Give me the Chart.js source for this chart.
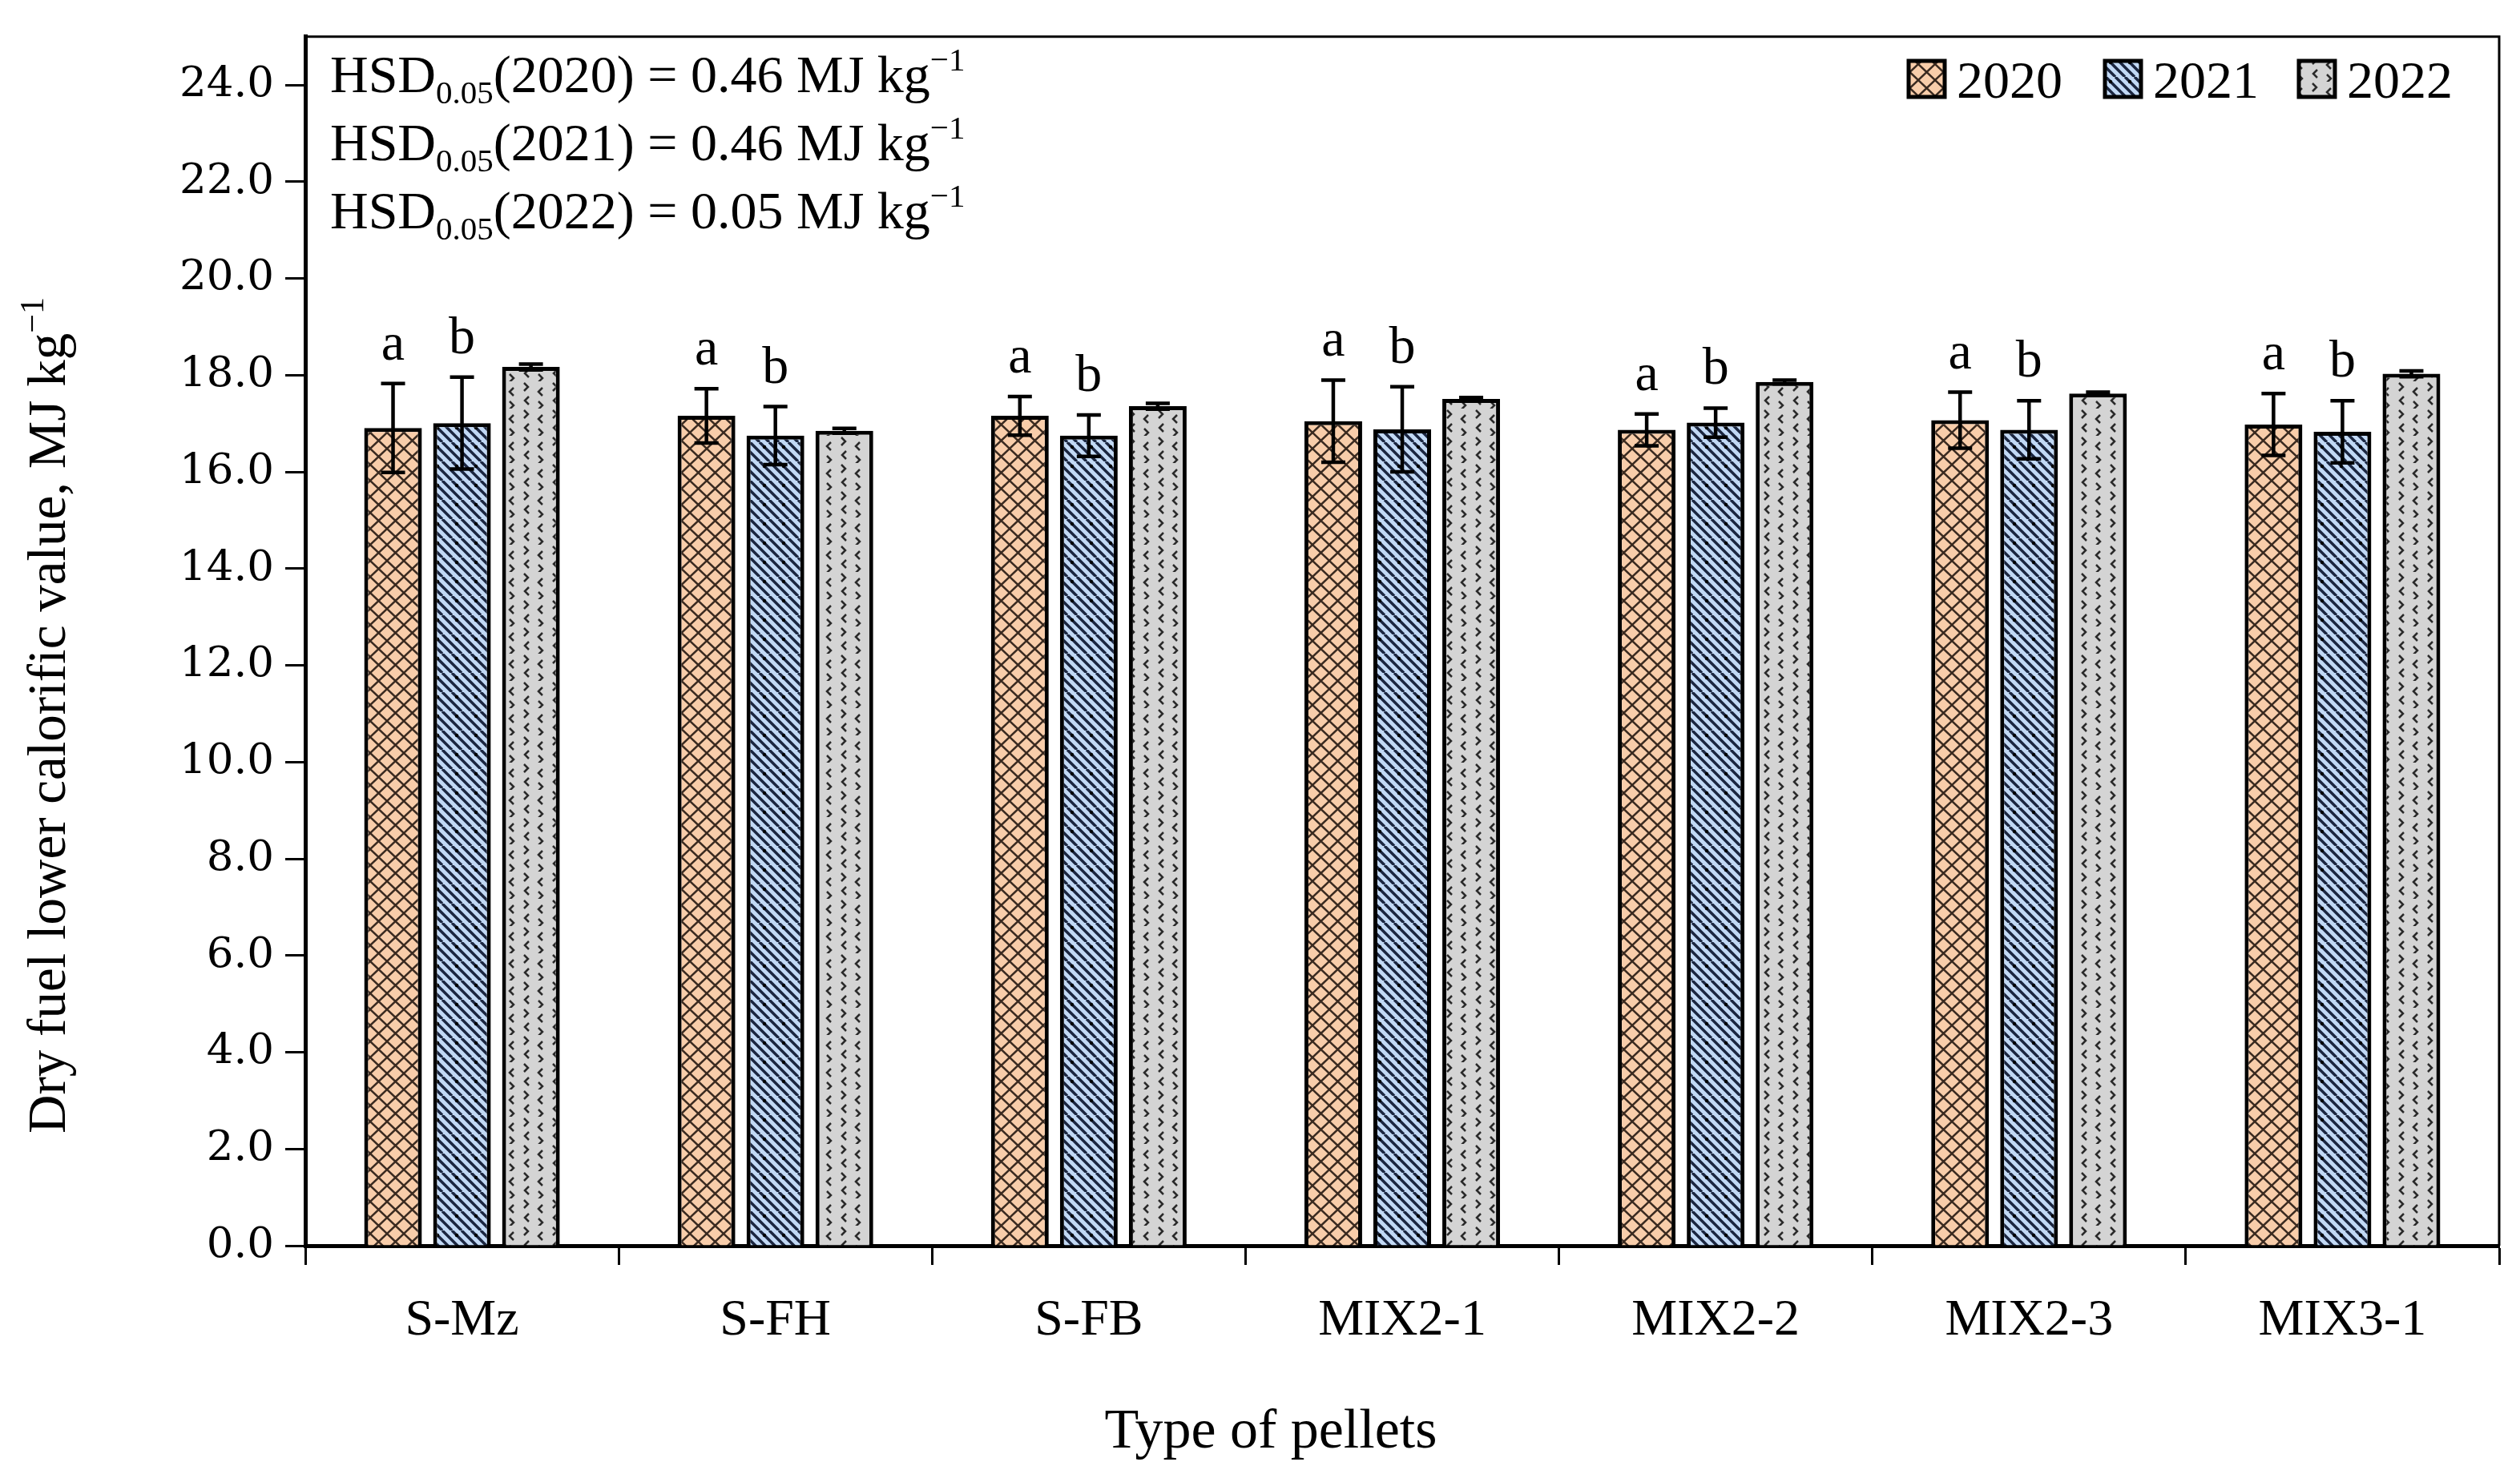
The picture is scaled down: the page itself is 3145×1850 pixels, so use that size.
<!DOCTYPE html>
<html>
<head>
<meta charset="utf-8">
<script src="https://cdn.jsdelivr.net/npm/chart.js@4.4.1/dist/chart.umd.min.js"></script>
<style>
    html, body { margin: 0; padding: 0; background: #fff; }
    canvas { display: block; }
</style>
</head>
<body>
<canvas id="chart" width="3145" height="1850"></canvas>
<script>
// data
let pellets = ['S-Mz', 'S-FH', 'S-FB', 'MIX2-1', 'MIX2-2', 'MIX2-3', 'MIX3-1'];
let years = ['2020', '2021', '2022'];
let lcv2020 = [16.91, 17.16, 17.16, 17.05, 16.87, 17.07, 16.98];
let lcv2021 = [17.01, 16.75, 16.75, 16.88, 17.02, 16.87, 16.83];
let lcv2022 = [18.17, 16.85, 17.36, 17.51, 17.86, 17.62, 18.03];
let err2020 = [0.92, 0.56, 0.40, 0.85, 0.33, 0.58, 0.64];
let err2021 = [0.95, 0.60, 0.43, 0.88, 0.30, 0.60, 0.64];
let err2022 = [0.06, 0.05, 0.06, 0.03, 0.04, 0.03, 0.06];
let letters2020 = ['a', 'a', 'a', 'a', 'a', 'a', 'a'];
let letters2021 = ['b', 'b', 'b', 'b', 'b', 'b', 'b'];
let hsdValues = ['0.46', '0.46', '0.05'];
let yTickStep = 2;

let serif = 'Liberation Serif';

// fill patterns
function makeTile(size, draw) {
    let c = document.createElement('canvas');
    c.width = size[0];
    c.height = size[1];
    let g = c.getContext('2d');
    draw(g, size[0], size[1]);
    return g.createPattern(c, 'repeat');
}

let pattern2020 = makeTile([21, 20], (g, w, h) => {
    g.fillStyle = '#f8cdaa';
    g.fillRect(0, 0, w, h);
    g.strokeStyle = '#3a2a20';
    g.lineWidth = 2.5;
    g.beginPath();
    g.moveTo(-w, -h); g.lineTo(2 * w, 2 * h);
    g.moveTo(2 * w, -h); g.lineTo(-w, 2 * h);
    g.stroke();
});

let pattern2021 = makeTile([24, 24], (g, w, h) => {
    g.fillStyle = '#c2d9f5';
    g.fillRect(0, 0, w, h);
    g.strokeStyle = '#1b2640';
    g.lineWidth = 3.5;
    g.beginPath();
    for (let k = -2; k <= 2; k++) {
        g.moveTo(k * 12, 0);
        g.lineTo(k * 12 + h, h);
    }
    g.stroke();
    g.fillStyle = '#000';
    g.beginPath();
    g.arc(18, 6, 2.2, 0, Math.PI * 2);
    g.fill();
});

let pattern2022 = makeTile([36, 34], (g, w, h) => {
    g.fillStyle = '#d4d4d4';
    g.fillRect(0, 0, w, h);
    g.strokeStyle = '#2a2a2a';
    g.lineWidth = 2.5;
    let chevron = (x, y, dir) => {
        g.beginPath();
        g.moveTo(x, y - 5);
        g.lineTo(x + dir * 5, y);
        g.lineTo(x, y + 5);
        g.stroke();
    };
    chevron(6, 7, 1);
    chevron(29, 13, -1);
    chevron(12, 24, -1);
    chevron(24, 30, 1);
});

let patterns = [pattern2020, pattern2021, pattern2022];
let values = [lcv2020, lcv2021, lcv2022];
let errors = [err2020, err2021, err2022];
let letters = [letters2020, letters2021, null];

// text with sub/superscripts, parts: [text, size, dy]
function drawParts(ctx, parts, x, y) {
    let cx = x;
    parts.forEach(p => {
        ctx.font = p[1] + 'px "' + serif + '"';
        ctx.fillText(p[0], cx, y + p[2]);
        cx += ctx.measureText(p[0]).width;
    });
    return cx - x;
}
function partsWidth(ctx, parts) {
    let w = 0;
    parts.forEach(p => {
        ctx.font = p[1] + 'px "' + serif + '"';
        w += ctx.measureText(p[0]).width;
    });
    return w;
}

let extras = {
    id: 'extras',
    afterDatasetsDraw(chart) {
        let ctx = chart.ctx;
        let y = chart.scales.y;
        ctx.save();
        ctx.strokeStyle = '#000';
        ctx.fillStyle = '#000';
        chart.data.datasets.forEach((ds, i) => {
            let meta = chart.getDatasetMeta(i);
            meta.data.forEach((bar, j) => {
                let v = values[i][j];
                let e = errors[i][j];
                let top = y.getPixelForValue(v + e);
                let bot = y.getPixelForValue(v - e);
                ctx.lineWidth = 4.5;
                ctx.beginPath();
                ctx.moveTo(bar.x, top);
                ctx.lineTo(bar.x, bot);
                ctx.moveTo(bar.x - 15, top);
                ctx.lineTo(bar.x + 15, top);
                ctx.moveTo(bar.x - 15, bot);
                ctx.lineTo(bar.x + 15, bot);
                ctx.stroke();
                if (letters[i]) {
                    ctx.font = '66px "' + serif + '"';
                    ctx.textAlign = 'center';
                    ctx.textBaseline = 'alphabetic';
                    ctx.fillText(letters[i][j], bar.x, top - 30);
                }
            });
        });
        ctx.restore();
    },
    afterDraw(chart) {
        let ctx = chart.ctx;
        let area = chart.chartArea;
        ctx.save();
        // frame on top and right
        ctx.strokeStyle = '#000';
        ctx.lineWidth = 3;
        ctx.beginPath();
        ctx.moveTo(area.left, area.top);
        ctx.lineTo(area.right, area.top);
        ctx.lineTo(area.right, area.bottom);
        ctx.stroke();

        ctx.fillStyle = '#000';
        ctx.textAlign = 'left';
        ctx.textBaseline = 'alphabetic';

        // HSD notes
        hsdValues.forEach((h, i) => {
            drawParts(ctx, [
                ['HSD', 66, 0],
                ['0.05', 41, 14],
                ['(' + years[i] + ') = ' + h + ' MJ kg', 66, 0],
                ['\u22121', 41, -27]
            ], area.left + 31, 115 + i * 85);
        });

        // legend
        let legendX = [2382, 2627, 2869];
        years.forEach((yr, i) => {
            ctx.fillStyle = patterns[i];
            ctx.fillRect(legendX[i], 76, 45, 45);
            ctx.lineWidth = 5;
            ctx.strokeStyle = '#000';
            ctx.strokeRect(legendX[i], 76, 45, 45);
            ctx.fillStyle = '#000';
            ctx.font = '66px "' + serif + '"';
            ctx.fillText(yr, legendX[i] + 60, 122);
        });

        // x axis title
        ctx.textAlign = 'center';
        ctx.font = '70px "' + serif + '"';
        ctx.fillText('Type of pellets', 1586, 1807);

        // y axis title
        ctx.textAlign = 'left';
        let title = [['Dry fuel lower calorific value, MJ kg', 67, 0], ['\u22121', 42, -27]];
        ctx.translate(58, 893);
        ctx.rotate(-Math.PI / 2);
        let w = partsWidth(ctx, title);
        drawParts(ctx, title, -w / 2, 23);
        ctx.restore();
    }
};

let chart = new Chart(document.getElementById('chart'), {
    type: 'bar',
    data: {
        labels: pellets,
        datasets: years.map((yr, i) => ({
            label: yr,
            data: values[i],
            backgroundColor: patterns[i],
            borderColor: '#000',
            borderWidth: 5,
            borderSkipped: 'start'
        }))
    },
    options: {
        responsive: false,
        animation: false,
        devicePixelRatio: 1,
        layout: { padding: { top: 22, right: 26, left: 0, bottom: 0 } },
        datasets: { bar: { barPercentage: 0.837, categoryPercentage: 0.66 } },
        plugins: {
            legend: { display: false },
            tooltip: { enabled: false }
        },
        scales: {
            x: {
                offset: true,
                grid: {
                    display: true,
                    offset: true,
                    drawOnChartArea: false,
                    drawTicks: true,
                    tickLength: 24,
                    tickWidth: 3,
                    tickColor: '#000'
                },
                border: { display: true, width: 5, color: '#000' },
                ticks: {
                    color: '#000',
                    font: { family: serif, size: 64 },
                    padding: 32
                },
                afterFit(scale) { scale.height = 295; }
            },
            y: {
                min: 0,
                max: 25,
                grid: {
                    display: true,
                    drawOnChartArea: false,
                    drawTicks: true,
                    tickLength: 25,
                    tickWidth: 3,
                    tickColor: '#000'
                },
                border: { display: true, width: 5, color: '#000' },
                ticks: {
                    stepSize: yTickStep,
                    includeBounds: false,
                    color: '#000',
                    padding: 14,
                    font: { family: 'DejaVu Serif', size: 53 },
                    callback: v => v.toFixed(1)
                },
                afterFit(scale) { scale.width = 381; }
            }
        }
    },
    plugins: [extras]
});
</script>
</body>
</html>
